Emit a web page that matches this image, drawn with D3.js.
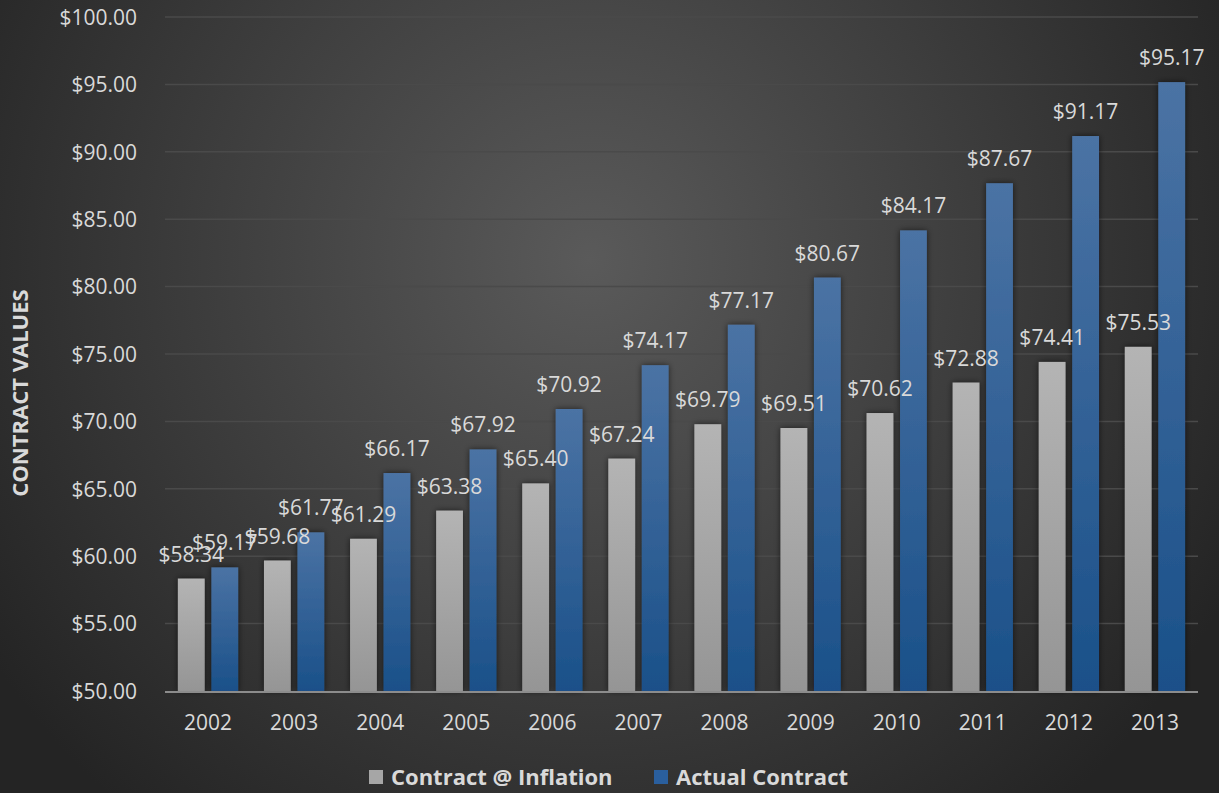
<!DOCTYPE html>
<html>
<head>
<meta charset="utf-8">
<script src="https://cdn.jsdelivr.net/npm/d3@7"></script>
<style>
  html, body { margin: 0; padding: 0; background: #2a2a2a; }
  svg { display: block; }
  text { font-family: "Open Sans", "Noto Sans", sans-serif; }
</style>
</head>
<body>
<svg width="1219" height="793"></svg>
<script>
// values
var years = ["2002","2003","2004","2005","2006","2007","2008","2009","2010","2011","2012","2013"];
var inflation = [58.34, 59.68, 61.29, 63.38, 65.40, 67.24, 69.79, 69.51, 70.62, 72.88, 74.41, 75.53];
var actual = [59.17, 61.77, 66.17, 67.92, 70.92, 74.17, 77.17, 80.67, 84.17, 87.67, 91.17, 95.17];
var seriesNames = ["Contract @ Inflation", "Actual Contract"];
var yTicks = [50, 55, 60, 65, 70, 75, 80, 85, 90, 95, 100];

var svg = d3.select("svg"),
    width = +svg.attr("width"),
    height = +svg.attr("height");

var defs = svg.append("defs");

var bg = defs.append("radialGradient")
    .attr("id", "bg")
    .attr("gradientUnits", "userSpaceOnUse")
    .attr("cx", 590).attr("cy", 260).attr("r", 720);
bg.append("stop").attr("offset", "0%").attr("stop-color", "#5a5a5a");
bg.append("stop").attr("offset", "100%").attr("stop-color", "#242424");

var gGray = defs.append("linearGradient").attr("id", "gGray")
    .attr("x1", 0).attr("y1", 0).attr("x2", 0).attr("y2", 1);
gGray.append("stop").attr("offset", "0%").attr("stop-color", "#b4b4b4");
gGray.append("stop").attr("offset", "100%").attr("stop-color", "#959595");

var gBlue = defs.append("linearGradient").attr("id", "gBlue")
    .attr("x1", 0).attr("y1", 0).attr("x2", 0).attr("y2", 1);
gBlue.append("stop").attr("offset", "0%").attr("stop-color", "#4b73a4");
gBlue.append("stop").attr("offset", "100%").attr("stop-color", "#1a5089");

var shadow = defs.append("filter").attr("id", "shadow")
    .attr("x", "-50%").attr("y", "-10%").attr("width", "200%").attr("height", "120%");
shadow.append("feDropShadow")
    .attr("dx", 0).attr("dy", 0).attr("stdDeviation", 3)
    .attr("flood-color", "#000").attr("flood-opacity", 0.6);

svg.append("rect").attr("width", width).attr("height", height).attr("fill", "url(#bg)");

// plot box
var plotLeft = 165, plotRight = 1198, plotTop = 17, plotBottom = 691;

var y = d3.scaleLinear().domain([50, 100]).range([plotBottom, plotTop]);

var x0 = d3.scaleBand().domain(years).range([plotLeft, plotRight])
    .paddingInner(0.3).paddingOuter(0.15);

var x1 = d3.scaleBand().domain(seriesNames).range([0, x0.bandwidth()])
    .paddingInner(0.2);

var fills = ["url(#gGray)", "url(#gBlue)"];
var legendFills = ["#a6a6a6", "#2a5f9e"];

// gridlines
svg.append("g")
  .selectAll("line")
  .data(yTicks.slice(1))
  .enter().append("line")
    .attr("x1", plotLeft).attr("x2", plotRight)
    .attr("y1", function(d) { return y(d); })
    .attr("y2", function(d) { return y(d); })
    .attr("stroke", "#4a4a4a")
    .attr("stroke-width", 1.5);

// y axis labels
var yAxis = d3.axisLeft(y).tickValues(yTicks).tickSize(0).tickPadding(0)
    .tickFormat(function(d) { return "$" + d3.format(".2f")(d); });
var ya = svg.append("g").attr("transform", "translate(137,0)").call(yAxis);
ya.select(".domain").remove();
ya.selectAll("text")
    .attr("fill", "#d9d9d9")
    .style("font-size", "21px")
    .attr("dy", "0.35em");

// bars
var rows = years.map(function(yr, i) {
  return { year: yr, vals: [inflation[i], actual[i]] };
});

function cells(d) {
  return d.vals.map(function(v, k) { return { key: seriesNames[k], k: k, v: v }; });
}

var groups = svg.append("g")
  .selectAll("g")
  .data(rows)
  .enter().append("g")
    .attr("transform", function(d) { return "translate(" + x0(d.year) + ",0)"; });

groups.selectAll("rect")
  .data(cells)
  .enter().append("rect")
    .attr("x", function(d) { return x1(d.key); })
    .attr("y", function(d) { return y(d.v); })
    .attr("width", x1.bandwidth())
    .attr("height", function(d) { return plotBottom - y(d.v); })
    .attr("fill", function(d) { return fills[d.k]; })
    .attr("filter", "url(#shadow)");

// x axis line
svg.append("line")
    .attr("x1", plotLeft).attr("x2", plotRight)
    .attr("y1", plotBottom + 1).attr("y2", plotBottom + 1)
    .attr("stroke", "#8c8c8c")
    .attr("stroke-width", 2);

// value labels drawn after all bars so they sit on top
var labelGroups = svg.append("g")
  .selectAll("g")
  .data(rows)
  .enter().append("g")
    .attr("transform", function(d) { return "translate(" + x0(d.year) + ",0)"; });

labelGroups.selectAll("text")
  .data(cells)
  .enter().append("text")
    .attr("x", function(d) { return x1(d.key) + x1.bandwidth() / 2; })
    .attr("y", function(d) { return y(d.v) - 17; })
    .attr("text-anchor", "middle")
    .attr("fill", "#d9d9d9")
    .style("font-size", "21px")
    .text(function(d) { return "$" + d3.format(".2f")(d.v); });

var xAxis = d3.axisBottom(x0).tickSize(0).tickPadding(0);
var xa = svg.append("g").attr("transform", "translate(0," + (plotBottom + 39) + ")").call(xAxis);
xa.select(".domain").remove();
xa.selectAll("text")
    .attr("fill", "#d9d9d9")
    .attr("dy", 0)
    .style("font-size", "21px");

// axis title
svg.append("text")
    .attr("transform", "translate(28,393) rotate(-90)")
    .attr("text-anchor", "middle")
    .attr("fill", "#d9d9d9")
    .style("font-size", "22px")
    .style("font-weight", "bold")
    .text("CONTRACT VALUES");

// legend
var legendX = [369, 654];
var legend = svg.append("g")
  .selectAll("g")
  .data(seriesNames)
  .enter().append("g")
    .attr("transform", function(d, i) { return "translate(" + legendX[i] + ",770)"; });

legend.append("rect")
    .attr("width", 14).attr("height", 14)
    .attr("fill", function(d, i) { return legendFills[i]; });

legend.append("text")
    .attr("x", 22).attr("y", 15)
    .attr("fill", "#d9d9d9")
    .style("font-size", "22px")
    .style("font-weight", "bold")
    .text(function(d) { return d; });
</script>
</body>
</html>
